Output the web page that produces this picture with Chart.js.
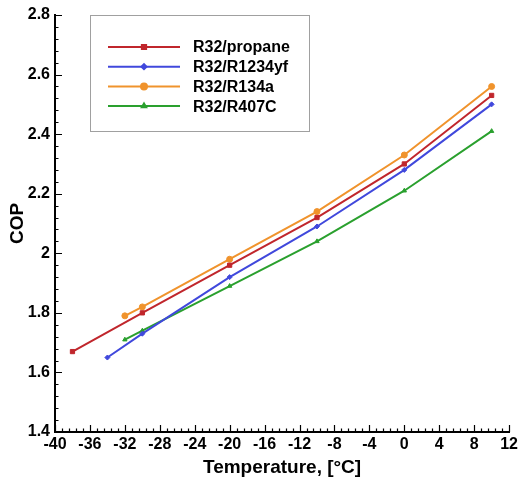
<!DOCTYPE html>
<html lang="en">
<head>
    <meta charset="UTF-8">
    <title>COP vs Temperature</title>
    <script src="https://cdn.jsdelivr.net/npm/chart.js"></script>
    <style>
        html, body { margin: 0; padding: 0; background: #fff; }
        #wrap { width: 521px; height: 479px; }
    </style>
</head>
<body>
<div id="wrap"><canvas id="myChart" width="521" height="479"></canvas></div>
<script>
    // values
    const propaneT = [-38, -30, -20, -10, 0, 10];
    const propaneCOP = [1.67, 1.80, 1.96, 2.12, 2.30, 2.53];
    const r1234yfT = [-34, -30, -20, -10, 0, 10];
    const r1234yfCOP = [1.65, 1.73, 1.92, 2.09, 2.28, 2.50];
    const r134aT = [-32, -30, -20, -10, 0, 10];
    const r134aCOP = [1.79, 1.82, 1.98, 2.14, 2.33, 2.56];
    const r407cT = [-32, -30, -20, -10, 0, 10];
    const r407cCOP = [1.71, 1.74, 1.89, 2.04, 2.21, 2.41];

    const seriesNames = ['R32/propane', 'R32/R1234yf', 'R32/R134a', 'R32/R407C'];

    const toPoints = (xs, ys) => xs.map((x, i) => ({ x: x, y: ys[i] }));

    const font = 'Liberation Sans, Arial, sans-serif';

    function makeSet(label, xs, ys, color, style, radius) {
        return {
            label: label,
            data: toPoints(xs, ys),
            borderColor: color,
            backgroundColor: color,
            borderWidth: 2,
            pointStyle: style,
            pointRadius: radius,
            pointHoverRadius: radius,
            pointBorderWidth: 1,
            tension: 0,
            fill: false
        };
    }

    // inward ticks (major + minor) and the boxed legend
    const framePlugin = {
        id: 'frame',
        afterDraw(chart) {
            const ctx = chart.ctx;
            const xs = chart.scales.x, ys = chart.scales.y;
            const a = chart.chartArea;
            ctx.save();
            ctx.strokeStyle = '#000';
            ctx.lineWidth = 1.2;
            ctx.beginPath();
            for (let i = 0; i <= 65; i++) {
                const v = -40 + i * 0.8;
                const px = Math.round(xs.getPixelForValue(v)) + 0.5;
                const len = (i % 5 === 0) ? 7 : 3.5;
                ctx.moveTo(px, a.bottom);
                ctx.lineTo(px, a.bottom - len);
            }
            for (let i = 0; i <= 35; i++) {
                const v = 1.4 + i * 0.04;
                const py = Math.round(ys.getPixelForValue(v)) + 0.5;
                const len = (i % 5 === 0) ? 7 : 3.5;
                ctx.moveTo(a.left, py);
                ctx.lineTo(a.left + len, py);
            }
            ctx.stroke();

            // legend box
            const bx = 90, by = 15, bw = 219, bh = 116;
            ctx.strokeStyle = '#a0a0a0';
            ctx.lineWidth = 1;
            ctx.strokeRect(bx + 0.5, by + 0.5, bw, bh);
            ctx.font = 'bold 16px ' + font;
            ctx.textBaseline = 'middle';
            chart.data.datasets.forEach((ds, i) => {
                const y = 47 + i * 19.7;
                ctx.strokeStyle = ds.borderColor;
                ctx.lineWidth = 2;
                ctx.beginPath();
                ctx.moveTo(108, y);
                ctx.lineTo(180, y);
                ctx.stroke();
                ctx.fillStyle = ds.backgroundColor;
                Chart.helpers.drawPoint(ctx, {
                    pointStyle: ds.pointStyle,
                    radius: ds.pointRadius,
                    borderWidth: 1
                }, 144, y);
                ctx.fill();
                ctx.fillStyle = '#000';
                ctx.fillText(ds.label, 193, y + 1);
            });
            ctx.restore();
        }
    };

    const ctx = document.getElementById('myChart').getContext('2d');
    new Chart(ctx, {
        type: 'line',
        data: {
            datasets: [
                makeSet(seriesNames[0], propaneT, propaneCOP, '#c0262c', 'rect', 3),
                makeSet(seriesNames[1], r1234yfT, r1234yfCOP, '#4048dc', 'rectRot', 2.5),
                makeSet(seriesNames[2], r134aT, r134aCOP, '#f0932c', 'circle', 3),
                makeSet(seriesNames[3], r407cT, r407cCOP, '#2aa02e', 'triangle', 2.5)
            ]
        },
        options: {
            responsive: false,
            animation: false,
            layout: { padding: { top: 15, right: 11, left: 0, bottom: 0 } },
            plugins: {
                legend: { display: false },
                tooltip: { enabled: false }
            },
            scales: {
                x: {
                    type: 'linear',
                    min: -40,
                    max: 12,
                    afterFit(scale) { scale.height = 47; },
                    grid: { display: false, drawTicks: false },
                    border: { color: '#000', width: 2 },
                    ticks: {
                        stepSize: 4,
                        padding: 3,
                        color: '#000',
                        font: { family: font, size: 16, weight: 'bold' }
                    },
                    title: {
                        display: true,
                        text: 'Temperature, [°C]',
                        color: '#000',
                        padding: { top: 0, bottom: 0 },
                        font: { family: font, size: 19, weight: 'bold' }
                    }
                },
                y: {
                    type: 'linear',
                    min: 1.4,
                    max: 2.8,
                    afterFit(scale) { scale.width = 55; },
                    grid: { display: false, drawTicks: false },
                    border: { color: '#000', width: 2 },
                    ticks: {
                        stepSize: 0.2,
                        padding: 5,
                        color: '#000',
                        font: { family: font, size: 16, weight: 'bold' },
                        callback: v => String(Number(v.toFixed(1)))
                    },
                    title: {
                        display: true,
                        text: 'COP',
                        color: '#000',
                        padding: { top: 6, bottom: 0 },
                        font: { family: font, size: 19, weight: 'bold' }
                    }
                }
            }
        },
        plugins: [framePlugin]
    });
</script>
</body>
</html>
